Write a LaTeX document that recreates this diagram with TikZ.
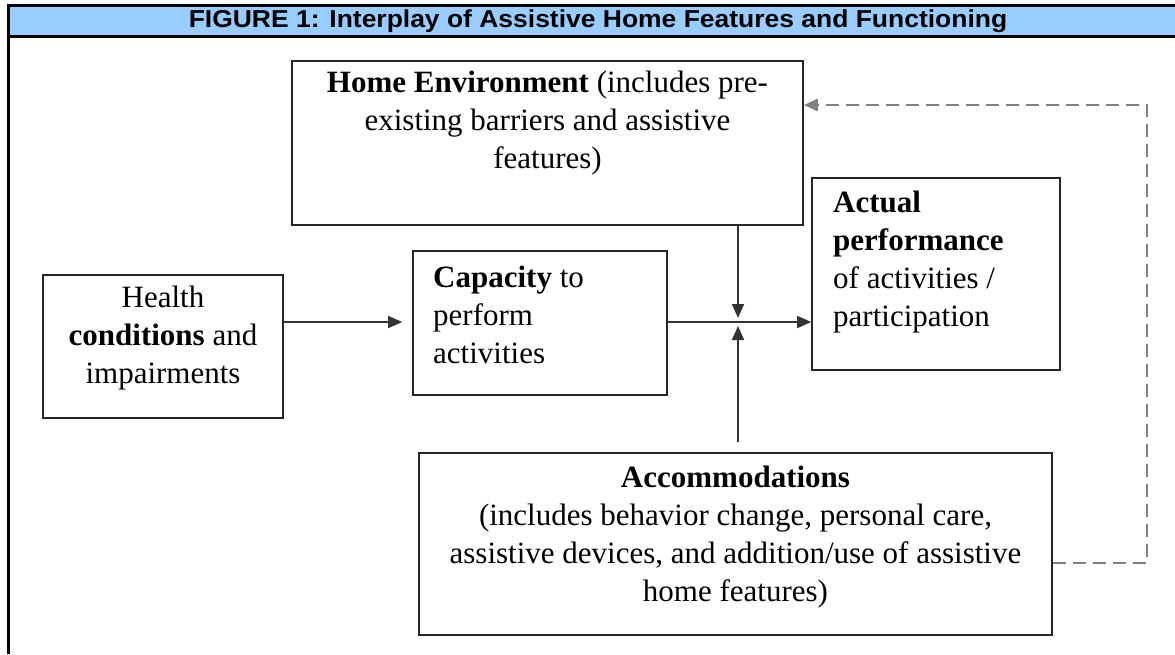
\documentclass[tikz,border=0pt]{standalone}
\usepackage{fontspec}
\setmainfont{Liberation Serif}
\newfontfamily\titlefont{Liberation Sans}
\usetikzlibrary{arrows.meta}
\definecolor{titleblue}{HTML}{99CCFF}
\definecolor{dashgray}{HTML}{808080}
\begin{document}
\begin{tikzpicture}[x=1pt,y=-1pt,
  box/.style={draw=black!85, line width=1.6pt, inner sep=0pt},
  txt/.style={inner sep=0pt, font=\fontsize{31}{38}\selectfont},
  arr/.style={draw=black!80, line width=1.6pt, -{Triangle[length=14pt,width=12pt]}},
  dasharr/.style={draw=dashgray, line width=2.6pt, dash pattern=on 13pt off 7pt, -{Triangle[length=14pt,width=12pt]}},
  frameline/.style={line width=3pt}
]
\useasboundingbox (0,0) rectangle (1175,654);
% title bar
\fill[titleblue] (8,5) rectangle (1175,36);
\draw[frameline] (1175,5) -- (8,5) -- (8,654);
\draw[frameline] (8,36) -- (1175,36);
\node[inner sep=0pt] (title) at (598,21) {\scalebox{1.08}[1]{\titlefont\bfseries\fontsize{24.5}{28}\selectfont FIGURE 1: Interplay of Assistive Home Features and Functioning}};
% boxes
\node[box, minimum width=511pt, minimum height=164pt] (home) at (547.5,143) {};
\node[box, minimum width=240pt, minimum height=143pt] (health) at (163,346.5) {};
\node[box, minimum width=254pt, minimum height=144pt] (cap) at (540,323) {};
\node[box, minimum width=248pt, minimum height=192pt] (act) at (936,274) {};
\node[box, minimum width=633pt, minimum height=182pt] (accom) at (735.5,544) {};
% texts
\node[txt, align=center, anchor=north] (homet) at (547.5,71) {\textbf{Home Environment} (includes pre-\\existing barriers and assistive\\features)};
\node[txt, align=center, anchor=north] (healtht) at (163,286) {Health\\\textbf{conditions} and\\impairments};
\node[txt, align=left, anchor=north west] (capt) at (433,266) {\textbf{Capacity} to\\perform\\activities};
\node[txt, align=left, anchor=north west] (actt) at (833,191) {\textbf{Actual}\\\textbf{performance}\\of activities /\\participation};
\node[txt, align=center, anchor=north] (accomt) at (735.5,466) {\textbf{Accommodations}\\(includes behavior change, personal care,\\assistive devices, and addition/use of assistive\\home features)};
% connectors
\coordinate (j) at (738,322);
\coordinate (d1) at (1147,563);
\coordinate (d2) at (1147,105);
\draw[arr, shorten >=10pt] (health.east |- j) -- (cap.west |- j);
\draw[arr] (cap.east |- j) -- (act.west |- j);
\draw[arr, shorten >=4pt] (home.south -| j) -- (j);
\draw[arr, shorten <=10pt, shorten >=4pt] (accom.north -| j) -- (j);
\draw[dasharr] (accom.east |- d1) -- (d1) -- (d2) -- (home.east |- d2);
\end{tikzpicture}
\end{document}
